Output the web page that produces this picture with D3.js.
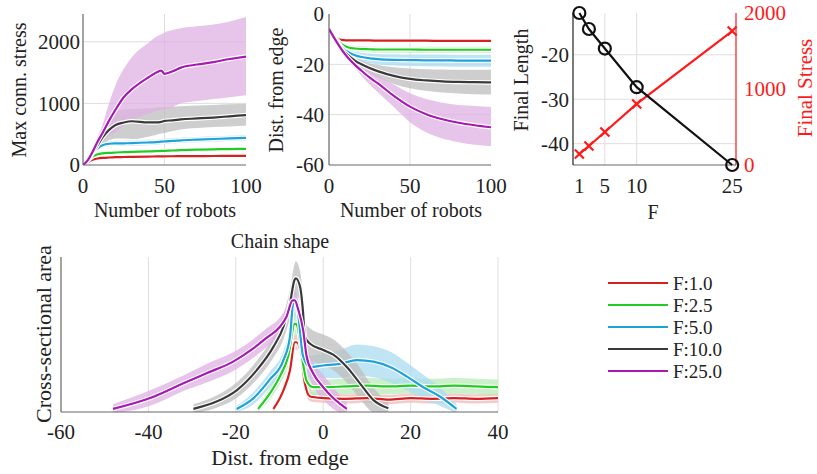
<!DOCTYPE html>
<html>
<head>
<meta charset="utf-8">
<script src="https://cdn.jsdelivr.net/npm/d3@7"></script>
</head>
<body style="margin:0; background:#fff">
<svg id="fig" width="817" height="474"></svg>
<script>
// ---- data ----
var seriesNames = ["F:1.0", "F:2.5", "F:5.0", "F:10.0", "F:25.0"];
var seriesColors = ["#d42222", "#22cc22", "#1fa2d8", "#3a3a3a", "#a61ab3"];
var bandColors = ["#f2b8b8", "#b8ecb8", "#a9dcf0", "#bdbdbd", "#dfb0e2"];

// max connection stress vs number of robots
var robotsA = [0, 3, 6, 9, 12, 16, 20, 25, 30, 40, 45, 48, 50, 55, 60, 70, 80, 90, 100];
var stressMean = [
  [0, 50, 85, 105, 115, 122, 127, 130, 133, 137, 139, 140, 141, 142, 143, 145, 146, 147, 148],
  [0, 70, 140, 175, 190, 198, 203, 208, 212, 220, 225, 228, 230, 235, 240, 248, 254, 259, 263],
  [0, 80, 190, 270, 320, 345, 350, 352, 355, 365, 372, 378, 382, 390, 400, 412, 422, 432, 440],
  [0, 80, 200, 320, 450, 570, 650, 690, 710, 690, 690, 700, 715, 725, 740, 755, 770, 790, 810],
  [0, 80, 220, 380, 520, 720, 900, 1100, 1230, 1420, 1500, 1530, 1480, 1520, 1580, 1630, 1670, 1720, 1760]
];
var stressHi = [
  [0, 55, 95, 118, 128, 135, 140, 143, 146, 150, 152, 153, 154, 155, 156, 158, 159, 160, 161],
  [0, 76, 158, 198, 214, 222, 228, 233, 237, 245, 250, 253, 255, 260, 265, 273, 279, 284, 288],
  [0, 88, 215, 305, 360, 385, 392, 395, 398, 408, 415, 421, 425, 433, 443, 455, 465, 475, 483],
  [0, 90, 230, 380, 560, 750, 870, 900, 910, 920, 930, 935, 935, 945, 955, 965, 975, 985, 995],
  [0, 90, 260, 460, 650, 1000, 1300, 1560, 1750, 1980, 2080, 2120, 2150, 2190, 2220, 2250, 2280, 2330, 2400]
];
var stressLo = [
  [0, 45, 75, 92, 102, 109, 114, 117, 120, 124, 126, 127, 128, 129, 130, 132, 133, 134, 135],
  [0, 64, 122, 152, 166, 174, 178, 183, 187, 195, 200, 203, 205, 210, 215, 223, 229, 234, 238],
  [0, 72, 165, 235, 280, 305, 308, 309, 312, 322, 329, 335, 339, 347, 357, 369, 379, 389, 397],
  [0, 70, 170, 260, 340, 400, 430, 430, 420, 460, 490, 510, 520, 550, 575, 600, 615, 625, 635],
  [0, 70, 180, 300, 400, 480, 540, 640, 730, 830, 880, 890, 900, 940, 1000, 1040, 1070, 1100, 1130]
];

// distance from edge vs number of robots
var robotsB = [0, 3, 6, 9, 12, 16, 20, 25, 30, 40, 50, 60, 70, 80, 90, 100];
var distMean = [
  [-6, -8.5, -10, -10.4, -10.5, -10.5, -10.5, -10.5, -10.6, -10.6, -10.6, -10.6, -10.7, -10.7, -10.7, -10.7],
  [-6, -8.8, -11, -12.5, -13.3, -13.7, -13.9, -14, -14.1, -14.1, -14.1, -14.2, -14.2, -14.2, -14.2, -14.2],
  [-6, -9, -11.8, -13.8, -15.2, -16.4, -17.1, -17.6, -17.9, -18.2, -18.3, -18.4, -18.4, -18.5, -18.5, -18.5],
  [-6, -9.2, -12.2, -14.6, -16.5, -18.5, -20, -21.5, -22.7, -24.6, -25.8, -26.4, -26.8, -27, -27.1, -27.2],
  [-6, -9.3, -12.4, -15.2, -17.6, -20.2, -22.5, -25.2, -27.5, -32.5, -36.8, -39.8, -41.8, -43.2, -44.2, -45]
];
var distHi = [
  [-6, -8.4, -9.7, -10, -10, -10, -10, -10, -10, -10.1, -10.1, -10.1, -10.1, -10.1, -10.1, -10.1],
  [-6, -8.7, -10.7, -11.8, -12.3, -12.6, -12.8, -12.9, -13, -13, -13, -13, -13, -13, -13, -13],
  [-6, -8.9, -11.5, -13.2, -14.2, -15, -15.4, -15.7, -15.9, -16, -16.1, -16.1, -16.1, -16.2, -16.2, -16.2],
  [-6, -9.1, -12, -14.2, -15.8, -17.4, -18.5, -19.6, -20.3, -21.2, -21.7, -22, -22.1, -22.2, -22.2, -22.2],
  [-6, -9.2, -12.2, -14.8, -16.8, -18.9, -20.5, -22.5, -24.2, -28, -31.5, -33.8, -35.3, -36.2, -36.6, -37]
];
var distLo = [
  [-6, -8.6, -10.3, -10.8, -11, -11, -11, -11, -11.1, -11.1, -11.1, -11.2, -11.2, -11.2, -11.2, -11.2],
  [-6, -8.9, -11.3, -13.2, -14.3, -14.8, -15, -15.2, -15.3, -15.4, -15.4, -15.4, -15.4, -15.4, -15.4, -15.4],
  [-6, -9.1, -12.1, -14.4, -16.2, -17.8, -18.8, -19.6, -20, -20.5, -20.7, -20.8, -20.9, -21, -21, -21],
  [-6, -9.3, -12.4, -15, -17.2, -19.6, -21.6, -23.5, -25.2, -27.8, -29.5, -30.5, -31.2, -31.6, -31.9, -32],
  [-6, -9.4, -12.6, -15.6, -18.4, -21.5, -24.5, -28, -31, -37, -43, -47, -49.5, -51, -52, -52.5]
];

// final values vs F
var forceValues = [1, 2.5, 5, 10, 25];
var forceTicks = [1, 5, 10, 25];
var finalLength = [-10.6, -14.2, -18.6, -27.3, -44.8];
var finalStress = [145, 250, 434, 803, 1763];

// chain shape (cross-sectional area, normalised)
var chainX = [
  [-11.4, -9.1, -7.6, -6.5, -6.1, -5, -4.2, -3, 0, 5, 10, 15, 20, 25, 30, 35, 40],
  [-14.9, -12.2, -9.9, -8, -6.5, -6, -4.6, -3.8, -2.3, 0, 5, 10, 15, 20, 25, 30, 35, 40],
  [-19.8, -16, -12.2, -9.1, -7.6, -6.8, -6, -4.6, -3, 0, 3.8, 7.7, 11.5, 15.3, 19.1, 22.9, 26.7, 30.5],
  [-29.7, -24.4, -19.8, -15.2, -11.4, -9.1, -7.6, -6.6, -6.3, -5.3, -4.6, -4.2, -3, 0, 2.3, 5.4, 8.4, 11.5, 14.9],
  [-48.1, -39.6, -32, -26.7, -20.6, -16, -12.9, -9.9, -8.4, -7, -6.5, -5.7, -4.6, -3.8, -2.3, 0, 2.3, 5.4]
];
var chainY = [
  [0.02, 0.14, 0.27, 0.45, 0.45, 0.36, 0.185, 0.1, 0.09, 0.085, 0.09, 0.08, 0.09, 0.085, 0.09, 0.085, 0.09],
  [0.02, 0.12, 0.23, 0.36, 0.57, 0.56, 0.31, 0.2, 0.16, 0.16, 0.165, 0.17, 0.165, 0.17, 0.165, 0.17, 0.165, 0.16],
  [0.02, 0.088, 0.21, 0.335, 0.486, 0.71, 0.68, 0.36, 0.29, 0.3, 0.31, 0.335, 0.325, 0.29, 0.23, 0.16, 0.1, 0.02],
  [0.02, 0.067, 0.14, 0.27, 0.42, 0.55, 0.7, 0.85, 0.863, 0.81, 0.64, 0.486, 0.44, 0.4, 0.37, 0.29, 0.185, 0.077, 0.024],
  [0.02, 0.09, 0.185, 0.25, 0.325, 0.41, 0.48, 0.55, 0.615, 0.72, 0.72, 0.66, 0.53, 0.36, 0.25, 0.16, 0.09, 0.02]
];
var chainSpread = [
  [0.02, 0.03, 0.04, 0.05, 0.05, 0.05, 0.04, 0.03, 0.03, 0.03, 0.03, 0.03, 0.03, 0.03, 0.03, 0.03, 0.03],
  [0.02, 0.04, 0.05, 0.06, 0.07, 0.07, 0.06, 0.05, 0.05, 0.05, 0.05, 0.05, 0.05, 0.05, 0.05, 0.05, 0.05, 0.05],
  [0.02, 0.04, 0.05, 0.06, 0.07, 0.08, 0.08, 0.07, 0.07, 0.08, 0.09, 0.1, 0.1, 0.1, 0.09, 0.08, 0.06, 0.03],
  [0.03, 0.04, 0.05, 0.06, 0.07, 0.08, 0.09, 0.1, 0.11, 0.1, 0.1, 0.1, 0.1, 0.1, 0.1, 0.1, 0.1, 0.08, 0.04],
  [0.03, 0.05, 0.05, 0.06, 0.06, 0.06, 0.06, 0.06, 0.06, 0.06, 0.06, 0.06, 0.07, 0.08, 0.08, 0.08, 0.07, 0.04]
];

// ---- drawing ----
var svg = d3.select("#fig");
var axisGrey = "#666";
var gridGrey = "#dedede";
var fs = 20, tfs = 21;

function txt(sel, size, color) {
  return sel.style("font-family", "Liberation Serif").style("font-size", size + "px")
    .style("fill", color || "#222");
}

function clipFor(id, x0, y0, w, h) {
  svg.append("clipPath").attr("id", id).append("rect")
    .attr("x", x0).attr("y", y0).attr("width", w).attr("height", h);
  return "url(#" + id + ")";
}

function drawGrid(x, y, xs, ys) {
  var g = svg.append("g");
  g.selectAll(".gx").data(xs).enter().append("line")
    .attr("x1", d => x(d)).attr("x2", d => x(d))
    .attr("y1", y.range()[0]).attr("y2", y.range()[1])
    .attr("stroke", gridGrey).attr("stroke-width", 1);
  g.selectAll(".gy").data(ys).enter().append("line")
    .attr("y1", d => y(d)).attr("y2", d => y(d))
    .attr("x1", x.range()[0]).attr("x2", x.range()[1])
    .attr("stroke", gridGrey).attr("stroke-width", 1);
}

function axisLines(x, y, color) {
  svg.append("line").attr("x1", x.range()[0]).attr("x2", x.range()[0])
    .attr("y1", y.range()[0]).attr("y2", y.range()[1])
    .attr("stroke", color || axisGrey).attr("stroke-width", 1.2);
  svg.append("line").attr("x1", x.range()[0]).attr("x2", x.range()[1])
    .attr("y1", y.range()[0]).attr("y2", y.range()[0])
    .attr("stroke", axisGrey).attr("stroke-width", 1.2);
}

function xTickLabels(x, ticks, base) {
  txt(svg.append("g").selectAll("text").data(ticks).enter().append("text")
    .attr("x", d => x(d)).attr("y", base).attr("text-anchor", "middle"), tfs)
    .text(d => d);
}

function yTickLabels(y, ticks, xpos, anchor, color) {
  txt(svg.append("g").selectAll("text").data(ticks).enter().append("text")
    .attr("x", xpos).attr("y", d => y(d)).attr("dy", "0.35em")
    .attr("text-anchor", anchor), tfs, color).text(d => d);
}

function yLabel(text, cx, cy, color, size) {
  txt(svg.append("text").attr("transform", "translate(" + cx + "," + cy + ") rotate(-90)")
    .attr("text-anchor", "middle").attr("dy", "0.35em"), size || fs, color).text(text);
}

function xLabel(text, cx, base, size) {
  txt(svg.append("text").attr("x", cx).attr("y", base).attr("text-anchor", "middle"), size || fs)
    .text(text);
}

function bandsAndLines(clip, xsFor, mean, hi, lo, x, y) {
  var g = svg.append("g").attr("clip-path", clip);
  for (var i = 0; i < mean.length; i++) {
    var xs = xsFor(i), h = hi[i], l = lo[i];
    var area = d3.area().curve(d3.curveMonotoneX)
      .x(d => x(d)).y0((d, k) => y(l[k])).y1((d, k) => y(h[k]));
    g.append("path").attr("d", area(xs))
      .attr("fill", bandColors[i]).attr("fill-opacity", 0.75);
  }
  for (var i = 0; i < mean.length; i++) {
    var xs = xsFor(i), m = mean[i];
    var line = d3.line().curve(d3.curveMonotoneX)
      .x(d => x(d)).y((d, k) => y(m[k]));
    g.append("path").attr("d", line(xs)).attr("fill", "none")
      .attr("stroke", "#fff").attr("stroke-width", 4.5);
    g.append("path").attr("d", line(xs)).attr("fill", "none")
      .attr("stroke", seriesColors[i]).attr("stroke-width", 2.2);
  }
}

// panel A: max conn. stress
var xA = d3.scaleLinear().domain([0, 100]).range([83, 246]);
var yA = d3.scaleLinear().domain([0, 2450]).range([165, 14]);
drawGrid(xA, yA, [50], [1000, 2000]);
bandsAndLines(clipFor("cA", 83, 0, 163, 165), () => robotsA, stressMean, stressHi, stressLo, xA, yA);
axisLines(xA, yA);
xTickLabels(xA, [0, 50, 100], 193);
yTickLabels(yA, [0, 1000, 2000], 80, "end");
yLabel("Max conn. stress", 19, 90);
xLabel("Number of robots", 165, 217);

// panel B: distance from edge
var xB = d3.scaleLinear().domain([0, 100]).range([329, 491]);
var yB = d3.scaleLinear().domain([-60, 0]).range([165, 14]);
drawGrid(xB, yB, [50], [-20, -40]);
bandsAndLines(clipFor("cB", 329, 14, 162, 151), () => robotsB, distMean, distHi, distLo, xB, yB);
axisLines(xB, yB);
xTickLabels(xB, [0, 50, 100], 193);
yTickLabels(yB, [0, -20, -40, -60], 324, "end");
yLabel("Dist. from edge", 276, 90);
xLabel("Number of robots", 411, 217);

// panel C: final length / stress vs F
var xC = d3.scaleLinear().domain([0, 25.6]).range([573, 736]);
var yC = d3.scaleLinear().domain([-44.8, -10.6]).range([165, 13]);
var yC2 = d3.scaleLinear().domain([0, 2000]).range([165, 13]);
drawGrid(xC, yC, [5, 10], [-20, -30, -40]);
svg.append("line").attr("x1", 573).attr("x2", 736).attr("y1", 165).attr("y2", 165)
  .attr("stroke", axisGrey).attr("stroke-width", 1.2);
svg.append("line").attr("x1", 573).attr("x2", 573).attr("y1", 165).attr("y2", 13)
  .attr("stroke", "#222").attr("stroke-width", 1.2);
svg.append("line").attr("x1", 736).attr("x2", 736).attr("y1", 165).attr("y2", 13)
  .attr("stroke", "#ff1a1a").attr("stroke-width", 1.2);
var stressLine = d3.line().x((d, i) => xC(d)).y((d, i) => yC2(finalStress[i]));
svg.append("path").attr("d", stressLine(forceValues)).attr("fill", "none")
  .attr("stroke", "#ff1a1a").attr("stroke-width", 2.2);
svg.append("g").selectAll("path").data(forceValues).enter().append("path")
  .attr("d", (d, i) => {
    var cx = xC(d), cy = yC2(finalStress[i]), r = 4.5;
    return "M" + (cx - r) + "," + (cy - r) + "L" + (cx + r) + "," + (cy + r) +
      "M" + (cx - r) + "," + (cy + r) + "L" + (cx + r) + "," + (cy - r);
  })
  .attr("stroke", "#ff1a1a").attr("stroke-width", 2.2);
var lengthLine = d3.line().x((d, i) => xC(d)).y((d, i) => yC(finalLength[i]));
svg.append("path").attr("d", lengthLine(forceValues)).attr("fill", "none")
  .attr("stroke", "#111").attr("stroke-width", 2.2);
svg.append("g").selectAll("circle").data(forceValues).enter().append("circle")
  .attr("cx", d => xC(d)).attr("cy", (d, i) => yC(finalLength[i])).attr("r", 6)
  .attr("fill", "none").attr("stroke", "#111").attr("stroke-width", 2.2);
xTickLabels(xC, forceTicks, 193);
yTickLabels(yC, [-20, -30, -40], 569, "end");
yTickLabels(yC2, [0, 1000, 2000], 744, "start", "#ff1a1a");
yLabel("Final Length", 521, 80);
yLabel("Final Stress", 805, 88, "#ff1a1a", 21);
xLabel("F", 653, 219);

// panel D: chain shape
var xD = d3.scaleLinear().domain([-60, 40]).range([61, 498]);
var yD = d3.scaleLinear().domain([0, 1]).range([412, 257]);
drawGrid(xD, yD, [-40, -20, 0, 20, 40], []);
var chainHi = chainY.map((s, i) => s.map((v, k) => v + chainSpread[i][k]));
var chainLo = chainY.map((s, i) => s.map((v, k) => v - chainSpread[i][k]));
bandsAndLines(clipFor("cD", 61, 250, 437, 162), i => chainX[i], chainY, chainHi, chainLo, xD, yD);
svg.append("line").attr("x1", 61).attr("x2", 61).attr("y1", 412).attr("y2", 257)
  .attr("stroke", axisGrey).attr("stroke-width", 1.2);
svg.append("line").attr("x1", 61).attr("x2", 498).attr("y1", 412).attr("y2", 412)
  .attr("stroke", axisGrey).attr("stroke-width", 1.2);
xTickLabels(xD, [-60, -40, -20, 0, 20, 40], 439);
yLabel("Cross-sectional area", 43, 334, null, 22);
xLabel("Dist. from edge", 280, 465, 22);
txt(svg.append("text").attr("x", 280).attr("y", 248).attr("text-anchor", "middle"), fs)
  .text("Chain shape");

// legend
var leg = svg.append("g").selectAll("g").data(seriesNames).enter().append("g")
  .attr("transform", (d, i) => "translate(608," + (283 + i * 22) + ")");
leg.append("line").attr("x1", 0).attr("x2", 60).attr("y1", 0).attr("y2", 0)
  .attr("stroke", (d, i) => seriesColors[i]).attr("stroke-width", 2.2);
txt(leg.append("text").attr("x", 65).attr("dy", "0.35em"), 19).text(d => d);
</script>
</body>
</html>
